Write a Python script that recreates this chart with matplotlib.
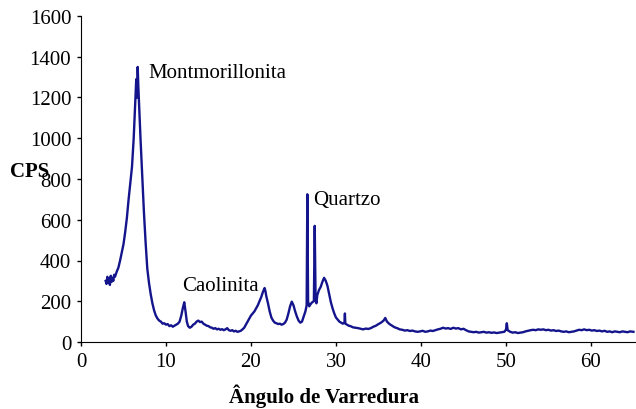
## Difratograma de raios X (CPS vs angulo)

import numpy as np
import matplotlib.pyplot as plt

plt.rcParams['font.family'] = ['Liberation Serif', 'DejaVu Serif']

# pontos (angulo, CPS)
angulo = [2.9, 3.0, 3.1, 3.2, 3.3, 3.4, 3.5, 3.6, 3.7, 3.8, 3.9, 4.0, 4.2, 4.4,
          4.6, 4.8, 5.0, 5.2, 5.4, 5.6, 5.8, 6.0, 6.2, 6.35, 6.5, 6.6, 6.67, 6.75, 6.85,
          7.0, 7.2, 7.4, 7.6, 7.8, 8.0, 8.2, 8.4, 8.6, 8.8, 9.0, 9.2, 9.4, 9.6, 9.8,
          10.0, 10.2, 10.4, 10.6, 10.8, 11.0, 11.2, 11.4, 11.6, 11.8, 12.0, 12.15, 12.3,
          12.45, 12.6, 12.8, 13.0, 13.2, 13.4, 13.6, 13.8, 14.0, 14.2, 14.4, 14.6, 14.8,
          15.0, 15.2, 15.4, 15.6, 15.8, 16.0, 16.2, 16.4, 16.6, 16.8, 17.0, 17.2, 17.4,
          17.6, 17.8, 18.0, 18.2, 18.4, 18.6, 18.8, 19.0, 19.2, 19.4, 19.6, 19.8, 20.0,
          20.2, 20.4, 20.6, 20.8, 21.0, 21.2, 21.4, 21.6, 21.7, 21.8, 22.0, 22.2, 22.4,
          22.6, 22.8, 23.0, 23.2, 23.4, 23.6, 23.8, 24.0, 24.2, 24.4, 24.6, 24.8, 25.0,
          25.2, 25.4, 25.6, 25.8, 26.0, 26.2, 26.4, 26.55, 26.63, 26.72, 26.85, 27.0,
          27.2, 27.4, 27.5, 27.6, 27.7, 27.8, 28.0, 28.2, 28.4, 28.6, 28.8, 29.0, 29.2,
          29.4, 29.6, 29.8, 30.0, 30.2, 30.4, 30.6, 30.8, 31.0, 31.05, 31.1, 31.3, 31.5,
          31.7, 32.0, 32.3, 32.6, 32.9, 33.2, 33.5, 33.8, 34.1, 34.4, 34.7, 35.0, 35.3,
          35.6, 35.8, 36.0, 36.3, 36.6, 36.9, 37.2, 37.5, 37.8, 38.1, 38.4, 38.7, 39.0,
          39.3, 39.6, 39.9, 40.2, 40.5, 40.8, 41.1, 41.4, 41.7, 42.0, 42.3, 42.6, 42.9,
          43.2, 43.5, 43.8, 44.1, 44.4, 44.7, 45.0, 45.3, 45.6, 45.9, 46.2, 46.5, 46.8,
          47.1, 47.4, 47.7, 48.0, 48.3, 48.6, 48.9, 49.2, 49.5, 49.8, 50.0, 50.1, 50.2,
          50.5, 50.8, 51.1, 51.4, 51.7, 52.0, 52.3, 52.6, 52.9, 53.2, 53.5, 53.8, 54.1,
          54.4, 54.7, 55.0, 55.3, 55.6, 55.9, 56.2, 56.5, 56.8, 57.1, 57.4, 57.7, 58.0,
          58.3, 58.6, 58.9, 59.2, 59.5, 59.8, 60.1, 60.4, 60.7, 61.0, 61.3, 61.6, 61.9,
          62.2, 62.5, 62.8, 63.1, 63.4, 63.7, 64.0, 64.3, 64.6, 65.0]
cps = [300, 285, 320, 290, 310, 280, 325, 295, 315, 300, 330, 320, 345, 365,
       400, 440, 480, 540, 610, 700, 780, 860, 1000, 1150, 1290, 1200, 1350, 1250, 1150,
       1000, 820, 640, 490, 360, 290, 235, 190, 155, 130, 115, 105, 100, 90, 92,
       85, 88, 78, 82, 75, 80, 85, 90, 100, 130, 170, 195, 150,
       100, 78, 70, 75, 85, 90, 100, 105, 98, 100, 90, 85, 80,
       78, 72, 70, 65, 68, 62, 65, 60, 63, 58, 62, 68, 58,
       55, 58, 52, 55, 50, 52, 55, 62, 70, 85, 100, 115, 130,
       140, 150, 165, 180, 200, 220, 245, 265, 250, 225, 190, 150, 120,
       105, 95, 92, 88, 90, 85, 88, 95, 110, 140, 175, 198, 180,
       150, 125, 105, 95, 100, 125, 150, 180, 725, 200, 175, 185,
       195, 200, 570, 210, 190, 230, 255, 270, 295, 315, 300, 275, 235,
       195, 165, 140, 120, 110, 100, 95, 90, 95, 140, 90, 85, 80,
       78, 72, 70, 68, 65, 62, 66, 64, 68, 75, 80, 88, 95,
       105, 118, 100, 88, 80, 72, 68, 62, 60, 56, 58, 54, 56,
       52, 50, 52, 55, 50, 52, 56, 54, 58, 62, 65, 70, 66,
       68, 64, 70, 66, 68, 62, 65, 58, 52, 50, 48, 50, 46,
       48, 50, 46, 48, 45, 47, 44, 46, 48, 50, 60, 92, 58,
       50, 46, 48, 44, 46, 48, 52, 55, 58, 60, 58, 62, 60,
       62, 58, 60, 56, 58, 54, 56, 52, 50, 52, 48, 50, 52,
       56, 60, 58, 62, 58, 60, 56, 58, 54, 56, 52, 55, 50,
       52, 48, 52, 50, 48, 52, 50, 48, 52, 50]

rotulos = ['Montmorillonita', 'Caolinita', 'Quartzo']
rot_x = [7.9, 11.9, 27.3]
rot_y = [1325, 276, 698]

fig = plt.figure(figsize=(6.36, 4.10), dpi=100)
ax = fig.add_axes([81/636, 67/410, 555/636, 326/410])

ax.plot(angulo, cps, color='#14148c', lw=1.7)

for t, xx, yy in zip(rotulos, rot_x, rot_y):
    ax.text(xx, yy, t, fontsize=15, va='center', ha='left')

ax.set_xlim(0, 65.3)
ax.set_ylim(0, 1600)
ax.set_xticks(np.arange(0, 61, 10))
ax.set_yticks(np.arange(0, 1601, 200))
ax.tick_params(labelsize=15, direction='out', length=3, width=1, pad=4)
ax.spines['top'].set_visible(False)
ax.spines['right'].set_visible(False)

fig.text(30/636, 1 - 172/410, 'CPS', fontsize=15, fontweight='bold', ha='center', va='center')
fig.text(324/636, 1 - 396/410, 'Ângulo de Varredura', fontsize=15, fontweight='bold', ha='center', va='center')

plt.savefig('out.png', dpi=100)
